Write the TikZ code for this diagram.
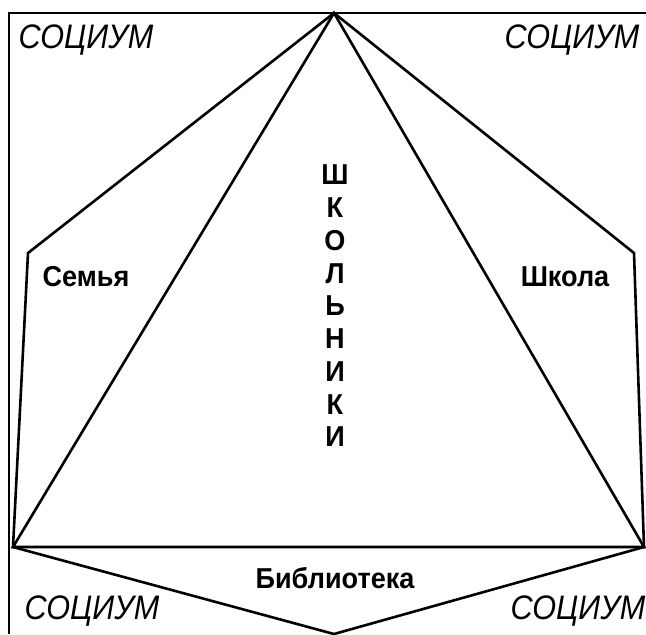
\documentclass[tikz,border=0pt]{standalone}
\usepackage{fontspec}
\setmainfont{Liberation Sans}
\usetikzlibrary{positioning}

\tikzset{
  edge/.style={line width=1.3pt, line join=miter},
  socium/.style={font=\fontsize{17}{19}\selectfont\itshape, inner sep=0pt, xscale=0.9},
  part/.style={font=\fontsize{14.4}{16}\selectfont\bfseries, inner sep=0pt, xscale=0.94}
}

\begin{document}
\begin{tikzpicture}[x=0.5pt, y=-0.5pt]
\useasboundingbox (0,0) rectangle (646,634);
% frame
\draw[line width=0.6pt] (9,634) -- (9,13) -- (646,13);
% vertices
\coordinate (apex) at (334,13);
\coordinate (famV) at (28,253);
\coordinate (schV) at (634,253);
\coordinate (botL) at (13,547);
\coordinate (botR) at (644,547);
\coordinate (libV) at (334,634);
% outer figure and triangle
\draw[edge] (apex) -- (famV) -- (botL) -- (libV) -- (botR) -- (schV) -- cycle;
\draw[edge] (apex) -- (botL) -- (botR) -- cycle;
% labels
\node[socium] (socTL) at (86,40) {СОЦИУМ};
\node[socium] (socTR) at (572,40) {СОЦИУМ};
\node[socium] (socBL) at (92,611) {СОЦИУМ};
\node[socium] (socBR) at (578,611) {СОЦИУМ};
\node[part] (family) at (86,277) {Семья};
\node[part] (school) at (565,277) {Школа};
\node[part] (library) at (335,578) {Библиотека};
\foreach \ch [count=\i from 0] in {Ш,К,О,Л,Ь,Н,И,К,И}
  \node[part] (pupil\i) at (335,{175+32.75*\i}) {\ch};
\end{tikzpicture}
\end{document}
